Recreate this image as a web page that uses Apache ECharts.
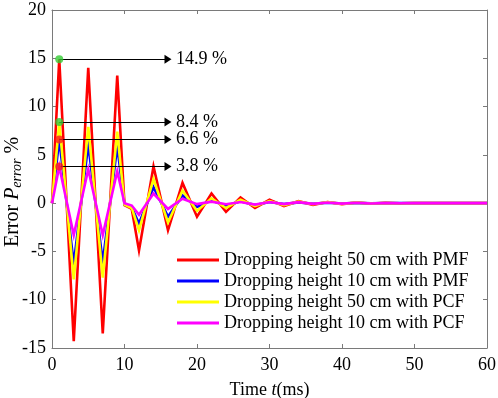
<!DOCTYPE html>
<html>
<head>
<meta charset="utf-8">
<script src="https://cdn.jsdelivr.net/npm/echarts@6/dist/echarts.min.js"></script>
<style>
  html, body { margin: 0; padding: 0; background: #fff; }
  #chart { width: 498px; height: 398px; }
</style>
</head>
<body>
<div id="chart"></div>
<script>
// time samples (ms)
const times = [0, 1, 3, 5, 7, 9, 10, 11, 12, 14, 16, 18, 20, 22, 24, 26, 28, 30, 32, 34, 36, 38, 40, 42, 44, 46, 48, 50, 52, 54, 56, 58, 60];

// error values (%) per case
const pmf50 = [0, 14.9, -14.3, 14.0, -13.5, 13.2, -0.2, -0.6, -4.9, 3.8, -2.8, 2.1, -1.4, 1.0, -0.9, 0.6, -0.5, 0.35, -0.3, 0.2, -0.18, 0.12, -0.1, 0.06, -0.05, 0.03, -0.02, 0.01, 0, 0, 0, 0, 0];
const pmf10 = [0, 6.6, -6.3, 6.1, -6.1, 5.9, -0.15, -0.45, -2.1, 1.65, -1.4, 0.8, -0.4, 0.3, -0.3, 0.2, -0.2, 0.12, -0.1, 0.08, -0.06, 0.05, -0.04, 0.03, -0.02, 0.01, 0, 0, 0, 0, 0, 0, 0];
const pcf50 = [0, 8.4, -7.9, 7.9, -7.7, 7.4, -0.15, -0.5, -2.8, 2.5, -2.0, 1.3, -0.8, 0.5, -0.5, 0.35, -0.3, 0.22, -0.2, 0.15, -0.12, 0.1, -0.08, 0.05, -0.04, 0.02, -0.01, 0, 0, 0, 0, 0, 0];
const pcf10 = [0, 3.8, -3.3, 3.5, -3.3, 3.3, 0, -0.25, -1.2, 1.0, -0.6, 0.45, -0.1, 0.15, -0.12, 0.12, -0.15, 0.12, -0.1, 0.1, -0.08, 0.06, -0.05, 0.04, -0.03, 0.02, -0.01, 0, 0, 0, 0, 0, 0];

const seriesNames = [
    "Dropping height 50 cm with PMF",
    "Dropping height 10 cm with PMF",
    "Dropping height 50 cm with PCF",
    "Dropping height 10 cm with PCF",
];

// peak annotations
const peakTime = 1;
const arrowEndTime = 16.0;
const peakValues = [14.9, 8.4, 6.6, 3.8];
const peakLabels = ["14.9 %", "8.4 %", "6.6 %", "3.8 %"];

const FONT = "Liberation Serif";
const AXIS_COLOR = "#7a7a7a";
const lineColors = ["#ff0000", "#0000ff", "#ffff00", "#ff00ff"];
const dotColors = ["#33cc33", "#33cc33", "#ff1a1a", "#ff1a1a"];

const chart = echarts.init(document.getElementById("chart"), null, { renderer: "canvas" });

const pairs = (vals) => times.map((t, i) => [t, vals[i]]);

const lineSeries = [pmf50, pmf10, pcf50, pcf10].map((vals, i) => ({
    name: seriesNames[i],
    type: "line",
    data: pairs(vals),
    showSymbol: false,
    symbol: "none",
    lineStyle: { color: lineColors[i], width: 2.6, join: "miter" },
    itemStyle: { color: lineColors[i] },
    z: 2 + i,
}));

const axisCommon = {
    axisLine: { show: true, onZero: false, lineStyle: { color: AXIS_COLOR, width: 1 } },
    axisTick: { show: true, inside: true, length: 4, lineStyle: { color: AXIS_COLOR } },
    splitLine: { show: false },
};

const option = {
    animation: false,
    backgroundColor: "#ffffff",
    grid: { left: 52, right: 11, top: 10, bottom: 50, containLabel: false, outerBoundsMode: "none" },
    legend: {
        orient: "vertical",
        left: 172,
        top: 246,
        icon: "rect",
        itemWidth: 42,
        itemHeight: 3,
        itemGap: 3,
        data: seriesNames,
        textStyle: { fontFamily: FONT, fontSize: 18, color: "#000", lineHeight: 18 },
    },
    // y-axis title, placed by hand (rotated rich text)
    graphic: [
        {
            type: "text",
            x: 13,
            y: 192,
            rotation: Math.PI / 2,
            silent: true,
            style: {
                text: "{a|Error }{i|P}{s|error}{a| %}",
                align: "center",
                verticalAlign: "middle",
                rich: {
                    a: { fontFamily: FONT, fontSize: 20, fill: "#000" },
                    i: { fontFamily: FONT, fontSize: 20, fontStyle: "italic", fill: "#000" },
                    s: { fontFamily: FONT, fontSize: 14, fontStyle: "italic", fill: "#000", padding: [8, 0, 0, 0] },
                },
            },
        },
    ],
    xAxis: [
        {
            type: "value",
            min: 0,
            max: 60,
            interval: 10,
            name: "{a|Time }{i|t}{a|(ms)}",
            nameLocation: "middle",
            nameGap: 33,
            nameTextStyle: {
                rich: {
                    a: { fontFamily: FONT, fontSize: 18, color: "#000" },
                    i: { fontFamily: FONT, fontSize: 18, fontStyle: "italic", color: "#000" },
                },
            },
            axisLabel: { fontFamily: FONT, fontSize: 18, color: "#000", margin: 8 },
            ...axisCommon,
        },
        {
            type: "value",
            position: "top",
            min: 0,
            max: 60,
            interval: 10,
            axisLabel: { show: false },
            ...axisCommon,
        },
    ],
    yAxis: [
        {
            type: "value",
            min: -15,
            max: 20,
            interval: 5,
            axisLabel: { fontFamily: FONT, fontSize: 18, color: "#000", margin: 6 },
            ...axisCommon,
        },
        {
            type: "value",
            position: "right",
            min: -15,
            max: 20,
            interval: 5,
            axisLabel: { show: false },
            ...axisCommon,
        },
    ],
    series: [
        ...lineSeries,
        {
            name: "peaks",
            type: "scatter",
            data: peakValues.map((v, i) => ({
                value: [peakTime, v],
                itemStyle: { color: dotColors[i] },
            })),
            symbol: "circle",
            symbolSize: 8,
            z: 10,
            silent: true,
            markLine: {
                silent: true,
                symbol: ["none", "triangle"],
                symbolSize: [9, 7],
                lineStyle: { color: "#000", width: 1, type: "solid" },
                itemStyle: { color: "#000" },
                label: {
                    show: true,
                    position: "end",
                    distance: 8,
                    fontFamily: FONT,
                    fontSize: 18,
                    color: "#000",
                    formatter: (p) => p.data.text,
                },
                data: peakValues.map((v, i) => [
                    { coord: [peakTime, v], text: peakLabels[i] },
                    { coord: [arrowEndTime, v] },
                ]),
            },
        },
    ],
};

chart.setOption(option);
</script>
</body>
</html>
